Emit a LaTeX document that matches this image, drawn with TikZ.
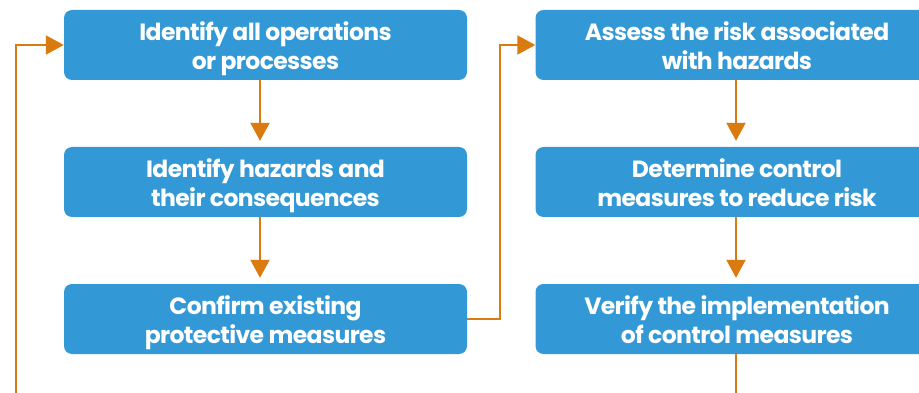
\documentclass[tikz,border=0pt]{standalone}
\usepackage{fontspec}
\setmainfont{Poppins}[BoldFont={Poppins Bold}]
\usetikzlibrary{arrows.meta}
\definecolor{boxblue}{HTML}{3399D6}
\definecolor{arr}{HTML}{D97B0F}
\newfontfamily\boxfont{Poppins Bold}[LetterSpace=-2.6]
\newcommand{\boxtext}[2]{\raisebox{-10pt}[0pt][0pt]{\begin{tabular}{@{}c@{}}#1\\#2\end{tabular}}}
\begin{document}
\begin{tikzpicture}[x=1pt,y=-1pt,
  box/.style={fill=boxblue, rounded corners=8pt, minimum width=403pt, minimum height=70pt,
    inner sep=0pt, text=white, font=\fontsize{23.5}{29}\selectfont\boxfont\renewcommand{\arraystretch}{1}\setlength{\tabcolsep}{0pt}},
  conn/.style={draw=arr, line width=2pt, -{Triangle[length=18pt,width=19pt]}},
  plainline/.style={draw=arr, line width=2pt}]
\clip (0,0) rectangle (919,393);
\node[box] (b1) at (265.5,45) {\boxtext{Identify all operations}{or processes}};
\node[box] (b2) at (265.5,182) {\boxtext{Identify hazards and}{their consequences}};
\node[box] (b3) at (265.5,319) {\boxtext{Confirm existing}{protective measures}};
\node[box] (b4) at (737,45) {\boxtext{Assess the risk associated}{with hazards}};
\node[box] (b5) at (737,182) {\boxtext{Determine control}{measures to reduce risk}};
\node[box] (b6) at (737,319) {\boxtext{Verify the implementation}{of control measures}};
\coordinate (lb) at (16,393);
\coordinate (rb) at (736,393);
\draw[conn] ([xshift=-5.5pt]b1.south) -- ([xshift=-5.5pt,yshift=6pt]b2.north);
\draw[conn] ([xshift=-5.5pt]b2.south) -- ([xshift=-5.5pt,yshift=6pt]b3.north);
\draw[conn] ([xshift=-1pt]b4.south) -- ([xshift=-1pt,yshift=6pt]b5.north);
\draw[conn] ([xshift=-1pt]b5.south) -- ([xshift=-1pt,yshift=6pt]b6.north);
\draw[conn] (b3.east) -- ++(33,0) |- (b4.west);
\draw[conn] (lb) |- (b1.west);
\draw[plainline] ([xshift=-1pt]b6.south) -- (rb);
\end{tikzpicture}
\end{document}
